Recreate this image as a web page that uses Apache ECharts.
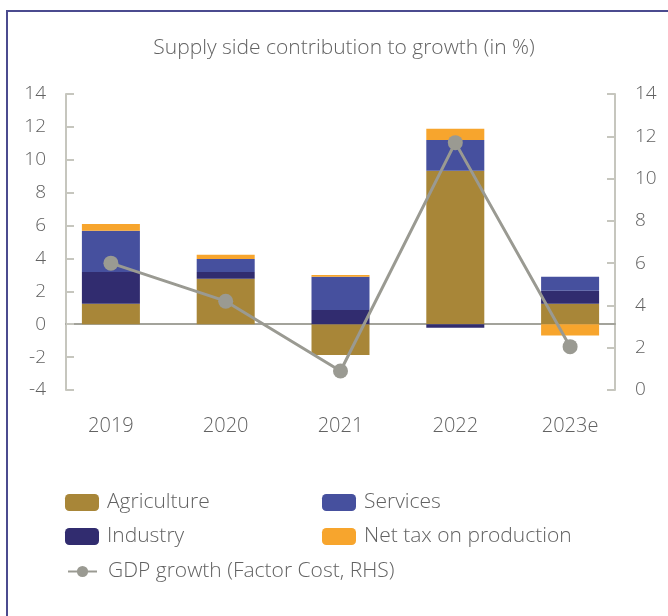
<!DOCTYPE html>
<html>
<head>
<meta charset="utf-8">
<script src="https://cdn.jsdelivr.net/npm/echarts@6/dist/echarts.min.js"></script>
<style>
  html, body { margin: 0; padding: 0; background: #ffffff; }
  #wrap { position: relative; width: 668px; height: 616px; overflow: hidden; }
  #frame { position: absolute; left: 6px; top: 10px; width: 700px; height: 700px;
           border-left: 2px solid #4b4b8f; border-top: 2px solid #4b4b8f; box-sizing: border-box; }
  #chart { position: absolute; left: 0; top: 0; width: 668px; height: 616px; }
</style>
</head>
<body>
<div id="wrap">
  <div id="frame"></div>
  <div id="chart"></div>
</div>
<script>
// Supply side contributions (percentage points) and GDP growth at factor cost
const categories = ['2019', '2020', '2021', '2022', '2023e'];
const agriculture = [1.24, 2.76, -1.87, 9.33, 1.24];
const industry = [1.94, 0.42, 0.87, -0.22, 0.79];
const services = [2.50, 0.79, 2.01, 1.88, 0.85];
const netTax = [0.42, 0.25, 0.12, 0.67, -0.69];
const gdpGrowth = [6.0, 4.2, 0.9, 11.7, 2.05];

const leftTicks = { min: -4, max: 14, interval: 2 };
const rightTicks = { min: 0, max: 14, interval: 2 };

const FONT = 'Open Sans';
const WEIGHT = 300;
const TEXT = '#626262';
const colors = {
  agriculture: '#a88638',
  industry: '#312c6f',
  services: '#46509e',
  netTax: '#f7a52d',
  gdp: '#9a9a92'
};

const chart = echarts.init(document.getElementById('chart'), null, { renderer: 'canvas' });

function legendAt(name, left, top, extra) {
  return Object.assign({
    data: [name], left: left, top: top, padding: 0,
    itemWidth: 34, itemHeight: 17, itemGap: 0,
    selectedMode: false,
    textStyle: { fontFamily: FONT, fontWeight: WEIGHT, fontSize: 21, color: TEXT, padding: [0, 0, 0, 3] }
  }, extra || {});
}

const barStyle = (c) => ({ color: c });

chart.setOption({
  animation: false,
  title: {
    text: 'Supply side contribution to growth (in %)',
    left: 339, top: 33, textAlign: 'center',
    textStyle: { fontFamily: FONT, fontWeight: WEIGHT, fontSize: 21, color: TEXT }
  },
  legend: [
    legendAt('Agriculture', 65, 492),
    legendAt('Services', 322, 492),
    legendAt('Industry', 65, 526),
    legendAt('Net tax on production', 322, 526),
    legendAt('GDP growth (Factor Cost, RHS)', 67, 561, {
      itemWidth: 29, itemHeight: 14,
      textStyle: { fontFamily: FONT, fontWeight: WEIGHT, fontSize: 21, color: TEXT, padding: [0, 0, 0, 6] }
    })
  ],
  grid: [
    // band layout for bars, line and category labels
    { left: 53.5, right: 40.5, top: 94, height: 296 },
    // axis frame between the two value axes
    { left: 66, right: 53, top: 94, height: 296 }
  ],
  xAxis: [
    {
      type: 'category', gridIndex: 0, data: categories,
      axisLine: { show: false }, axisTick: { show: false },
      axisLabel: { fontFamily: FONT, fontWeight: WEIGHT, fontSize: 20, color: TEXT, margin: 26 }
    },
    {
      type: 'category', gridIndex: 1, data: categories,
      axisLine: { show: true, onZero: true, onZeroAxisIndex: 2, lineStyle: { color: '#a3a39b', width: 2 } },
      axisTick: { show: false }, axisLabel: { show: false }, splitLine: { show: false }
    }
  ],
  yAxis: [
    { type: 'value', gridIndex: 0, min: leftTicks.min, max: leftTicks.max, interval: leftTicks.interval, show: false },
    { type: 'value', gridIndex: 0, min: rightTicks.min, max: rightTicks.max, interval: rightTicks.interval, show: false },
    {
      type: 'value', gridIndex: 1, position: 'left',
      min: leftTicks.min, max: leftTicks.max, interval: leftTicks.interval,
      axisLine: { show: true, lineStyle: { color: '#c6c6be', width: 2 } },
      axisTick: { show: true, inside: true, length: 8, lineStyle: { color: '#c6c6be', width: 2 } },
      splitLine: { show: false },
      axisLabel: { fontFamily: FONT, fontWeight: WEIGHT, fontSize: 19, color: TEXT, margin: 20 }
    },
    {
      type: 'value', gridIndex: 1, position: 'right',
      min: rightTicks.min, max: rightTicks.max, interval: rightTicks.interval,
      axisLine: { show: true, lineStyle: { color: '#c6c6be', width: 2 } },
      axisTick: { show: true, inside: true, length: 8, lineStyle: { color: '#c6c6be', width: 2 } },
      splitLine: { show: false },
      axisLabel: { fontFamily: FONT, fontWeight: WEIGHT, fontSize: 19, color: TEXT, margin: 20 }
    }
  ],
  series: [
    { name: 'Agriculture', type: 'bar', stack: 'supply', xAxisIndex: 0, yAxisIndex: 0, barWidth: 58, data: agriculture, itemStyle: barStyle(colors.agriculture) },
    { name: 'Industry', type: 'bar', stack: 'supply', xAxisIndex: 0, yAxisIndex: 0, barWidth: 58, data: industry, itemStyle: barStyle(colors.industry) },
    { name: 'Services', type: 'bar', stack: 'supply', xAxisIndex: 0, yAxisIndex: 0, barWidth: 58, data: services, itemStyle: barStyle(colors.services) },
    { name: 'Net tax on production', type: 'bar', stack: 'supply', xAxisIndex: 0, yAxisIndex: 0, barWidth: 58, data: netTax, itemStyle: barStyle(colors.netTax) },
    {
      name: 'GDP growth (Factor Cost, RHS)', type: 'line', xAxisIndex: 0, yAxisIndex: 1, data: gdpGrowth,
      symbol: 'circle', symbolSize: 15, z: 5,
      lineStyle: { color: colors.gdp, width: 3 },
      itemStyle: { color: colors.gdp }
    }
  ]
});
</script>
</body>
</html>
